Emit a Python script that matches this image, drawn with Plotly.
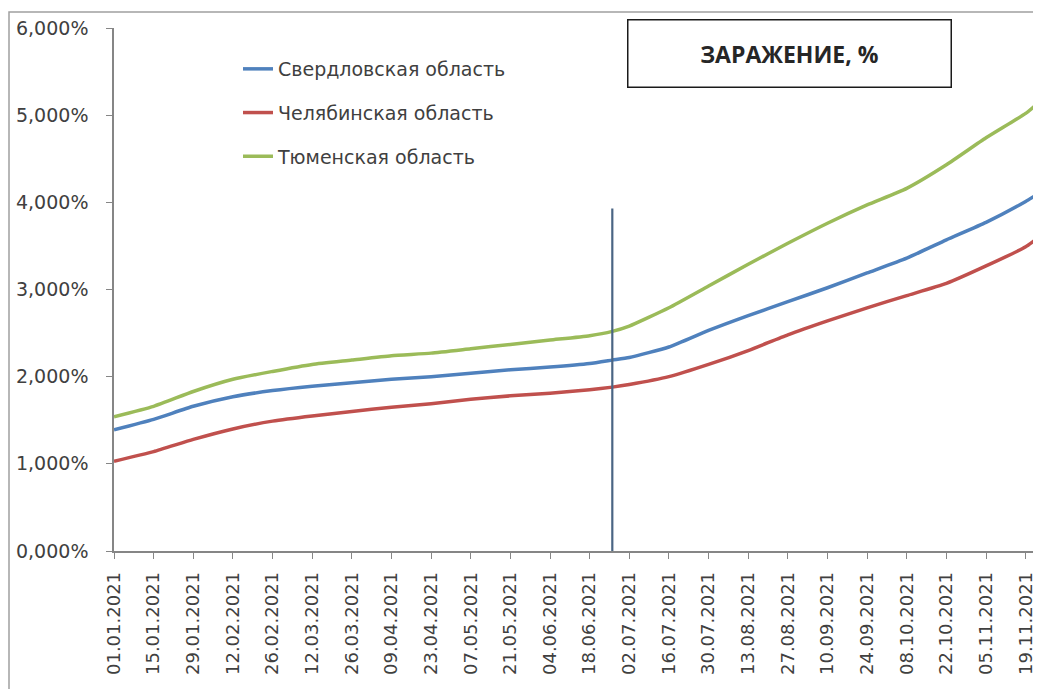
import plotly.graph_objects as go

# ---- data (values in %) ----
dates = ["2021-01-01", "2021-01-15", "2021-01-29", "2021-02-12", "2021-02-26", "2021-03-12",
         "2021-03-26", "2021-04-09", "2021-04-23", "2021-05-07", "2021-05-21", "2021-06-04",
         "2021-06-18", "2021-06-26", "2021-07-02", "2021-07-16", "2021-07-30", "2021-08-13",
         "2021-08-27", "2021-09-10", "2021-09-24", "2021-10-08", "2021-10-22", "2021-11-05",
         "2021-11-19", "2021-11-22"]

sverdlovsk = [1.39, 1.51, 1.66, 1.77, 1.84, 1.89, 1.93, 1.97, 2.00, 2.04, 2.08, 2.11,
              2.15, 2.19, 2.22, 2.34, 2.53, 2.70, 2.86, 3.02, 3.19, 3.36, 3.57, 3.77,
              4.01, 4.07]
chelyabinsk = [1.03, 1.14, 1.28, 1.40, 1.49, 1.55, 1.60, 1.65, 1.69, 1.74, 1.78, 1.81,
               1.85, 1.88, 1.91, 2.00, 2.14, 2.30, 2.48, 2.64, 2.79, 2.93, 3.07, 3.27,
               3.49, 3.56]
tyumen = [1.54, 1.66, 1.83, 1.97, 2.06, 2.14, 2.19, 2.24, 2.27, 2.32, 2.37, 2.42,
          2.47, 2.52, 2.58, 2.79, 3.04, 3.29, 3.53, 3.76, 3.97, 4.16, 4.43, 4.74,
          5.02, 5.10]

series_names = ["Свердловская область", "Челябинская область", "Тюменская область"]
series_colors = ["#4F81BD", "#C0504D", "#9BBB59"]

tick_dates = ["2021-01-01", "2021-01-15", "2021-01-29", "2021-02-12", "2021-02-26", "2021-03-12",
              "2021-03-26", "2021-04-09", "2021-04-23", "2021-05-07", "2021-05-21", "2021-06-04",
              "2021-06-18", "2021-07-02", "2021-07-16", "2021-07-30", "2021-08-13", "2021-08-27",
              "2021-09-10", "2021-09-24", "2021-10-08", "2021-10-22", "2021-11-05", "2021-11-19"]
tick_labels = ["01.01.2021", "15.01.2021", "29.01.2021", "12.02.2021", "26.02.2021", "12.03.2021",
               "26.03.2021", "09.04.2021", "23.04.2021", "07.05.2021", "21.05.2021", "04.06.2021",
               "18.06.2021", "02.07.2021", "16.07.2021", "30.07.2021", "13.08.2021", "27.08.2021",
               "10.09.2021", "24.09.2021", "08.10.2021", "22.10.2021", "05.11.2021", "19.11.2021"]

y_ticks = [0, 1, 2, 3, 4, 5, 6]
y_labels = ["0,000%", "1,000%", "2,000%", "3,000%", "4,000%", "5,000%", "6,000%"]

vline_dates = ["2021-06-26", "2021-06-26"]
vline_values = [0, 3.93]

title_text = "ЗАРАЖЕНИЕ, %"

# ---- figure ----
fig = go.Figure()
for name, vals, col in zip(series_names, [sverdlovsk, chelyabinsk, tyumen], series_colors):
    fig.add_trace(go.Scatter(
        x=dates, y=vals, mode="lines", name=name, legendgroup=name,
        line=dict(color=col, width=3.5, shape="spline", smoothing=0.5),
    ))

fig.add_trace(go.Scatter(
    x=vline_dates, y=vline_values, mode="lines", showlegend=False,
    line=dict(color="#4A6584", width=2.2),
))

OFF = 8  # page body margin
W, H = 1041 - OFF, 689 - OFF
L, T = 114 - OFF, 28 - OFF
R = (1041 - OFF) - (1037 - OFF)
B = (689 - OFF) - (551 - OFF)
pw, ph = W - L - R, H - T - B


def px(xp):
    return (xp - OFF - L) / pw


def py(yp):
    return (H - B - (yp - OFF)) / ph


fig.update_layout(
    width=W, height=H, autosize=False,
    margin=dict(l=L, r=R, t=T, b=B),
    paper_bgcolor="white", plot_bgcolor="white",
    font=dict(family="DejaVu Sans", size=18, color="#404040"),
    showlegend=True,
    legend=dict(
        x=px(238), y=py(50), xanchor="left", yanchor="top",
        bgcolor="rgba(0,0,0,0)", font=dict(family="DejaVu Sans", size=19, color="#404040"),
        traceorder="grouped", tracegroupgap=16,
    ),
    xaxis=dict(
        type="date", range=["2021-01-01", "2021-11-23"],
        tickmode="array", tickvals=tick_dates, ticktext=tick_labels,
        tickangle=-90, ticks="outside", ticklen=6, tickcolor="#868686",
        showline=True, linecolor="#868686", linewidth=1.5,
        showgrid=False, zeroline=False,
        tickfont=dict(family="DejaVu Sans", size=18, color="#404040"),
        ticklabelstandoff=6,
    ),
    yaxis=dict(
        range=[0, 6], tickmode="array", tickvals=y_ticks, ticktext=y_labels,
        ticks="outside", ticklen=6, tickcolor="#868686",
        showline=True, linecolor="#868686", linewidth=1.5,
        showgrid=False, zeroline=False,
        tickfont=dict(family="DejaVu Sans", size=19, color="#404040"),
        ticklabelstandoff=14,
    ),
    annotations=[dict(
        xref="paper", yref="paper",
        x=px(789.5), y=py(53.5),
        xanchor="center", yanchor="middle",
        text="<b>" + title_text + "</b>", showarrow=False,
        font=dict(family="Open Sans", size=23, color="#262626"),
        bordercolor="#1a1a1a", borderwidth=1.5, borderpad=0,
        width=322, height=66, bgcolor="white",
    )],
    shapes=[dict(
        type="rect", xref="paper", yref="paper", layer="below",
        x0=px(9), x1=1.2, y0=-0.5, y1=py(12),
        line=dict(color="#a0a0a0", width=1.5), fillcolor="rgba(0,0,0,0)",
    )],
)

fig.write_html("out.html", config={"displayModeBar": False})
